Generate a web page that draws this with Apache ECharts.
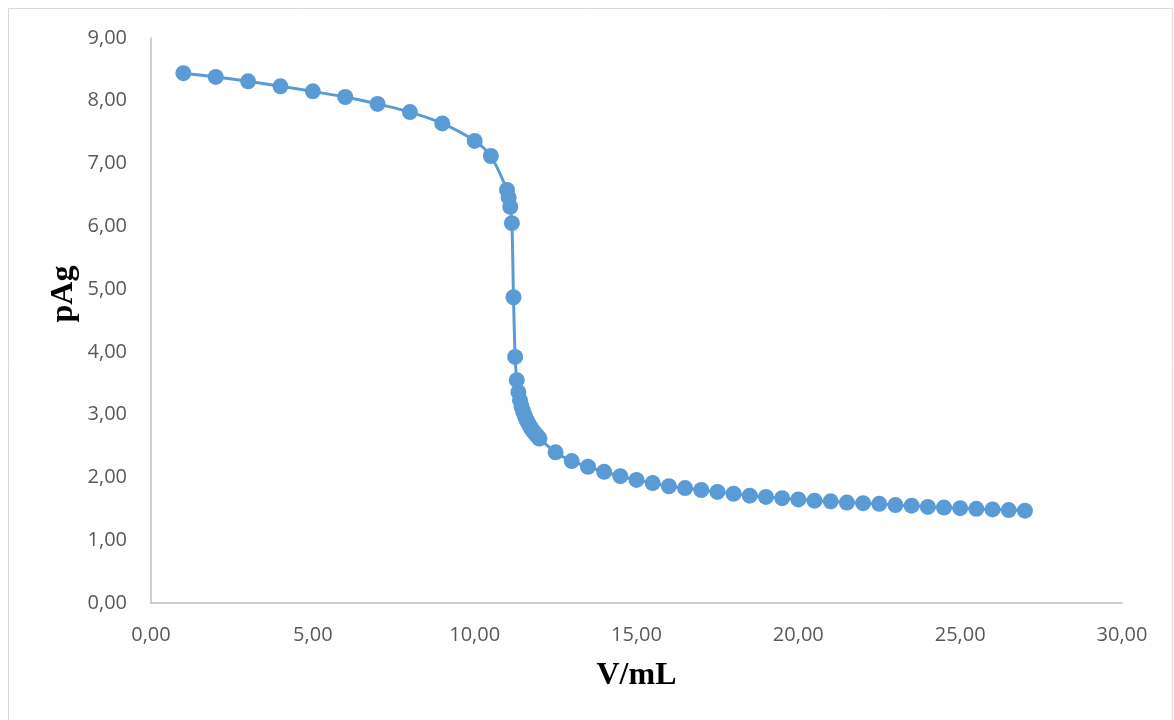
<!DOCTYPE html>
<html>
<head>
<meta charset="utf-8">
<script src="https://cdn.jsdelivr.net/npm/echarts@6/dist/echarts.min.js"></script>
<style>html,body{margin:0;padding:0;background:#fff;}#c{width:1174px;height:720px;}</style>
</head>
<body>
<div id="c"></div>
<script>
const volumes = [1,2,3,4,5,6,7,8,9,10,10.5,11,11.05,11.1,11.15,11.2,11.25,11.3,11.35,11.4,11.45,11.5,11.55,11.6,11.65,11.7,11.75,11.8,11.85,11.9,11.95,12,12.5,13,13.5,14,14.5,15,15.5,16,16.5,17,17.5,18,18.5,19,19.5,20,20.5,21,21.5,22,22.5,23,23.5,24,24.5,25,25.5,26,26.5,27];
const pAg = [8.44,8.38,8.31,8.23,8.15,8.06,7.95,7.82,7.64,7.36,7.12,6.58,6.46,6.31,6.05,4.87,3.92,3.55,3.36,3.23,3.13,3.05,2.98,2.92,2.87,2.82,2.78,2.74,2.71,2.68,2.65,2.62,2.40,2.26,2.17,2.09,2.02,1.96,1.91,1.86,1.83,1.80,1.77,1.74,1.71,1.69,1.67,1.65,1.63,1.62,1.60,1.59,1.58,1.56,1.55,1.53,1.52,1.51,1.50,1.49,1.48,1.47];
const xTitle = 'V/mL';
const yTitle = 'pAg';

const chart = echarts.init(document.getElementById('c'));
const fmt = v => v.toFixed(2).replace('.', ',');
const titleFont = {fontFamily: 'Liberation Serif', fontWeight: 'bold', fontSize: 32, color: '#000'};
const axisStyle = {
  axisLine: {show: true, lineStyle: {color: '#BFBFBF', width: 1.5}},
  axisTick: {show: false},
  splitLine: {show: false},
  axisLabel: {color: '#595959', fontSize: 20, fontFamily: 'Open Sans', formatter: fmt, margin: 22}
};
chart.setOption({
  animation: false,
  grid: {left: 151, right: 52, top: 38, bottom: 117},
  graphic: [
    {type: 'rect', shape: {x: 8.5, y: 8.5, width: 1164, height: 730}, style: {fill: 'none', stroke: '#D9D9D9', lineWidth: 1}, silent: true},
    {type: 'text', x: 64, y: 294, rotation: Math.PI / 2,
      style: {text: yTitle, textAlign: 'center', textVerticalAlign: 'middle', fill: '#000', font: 'bold 32px "Liberation Serif"'}, silent: true}
  ],
  xAxis: Object.assign({type: 'value', min: 0, max: 30, interval: 5,
    name: xTitle, nameLocation: 'middle', nameGap: 57,
    nameTextStyle: titleFont}, axisStyle),
  yAxis: Object.assign({type: 'value', min: 0, max: 9, interval: 1}, axisStyle,
    {axisLabel: Object.assign({}, axisStyle.axisLabel, {margin: 24})}),
  series: [{
    type: 'line',
    data: volumes.map((v, i) => [v, pAg[i]]),
    smooth: 0.3,
    symbol: 'circle',
    symbolSize: 16,
    lineStyle: {color: '#5B9BD5', width: 3},
    itemStyle: {color: '#5B9BD5'}
  }]
});
</script>
</body>
</html>
